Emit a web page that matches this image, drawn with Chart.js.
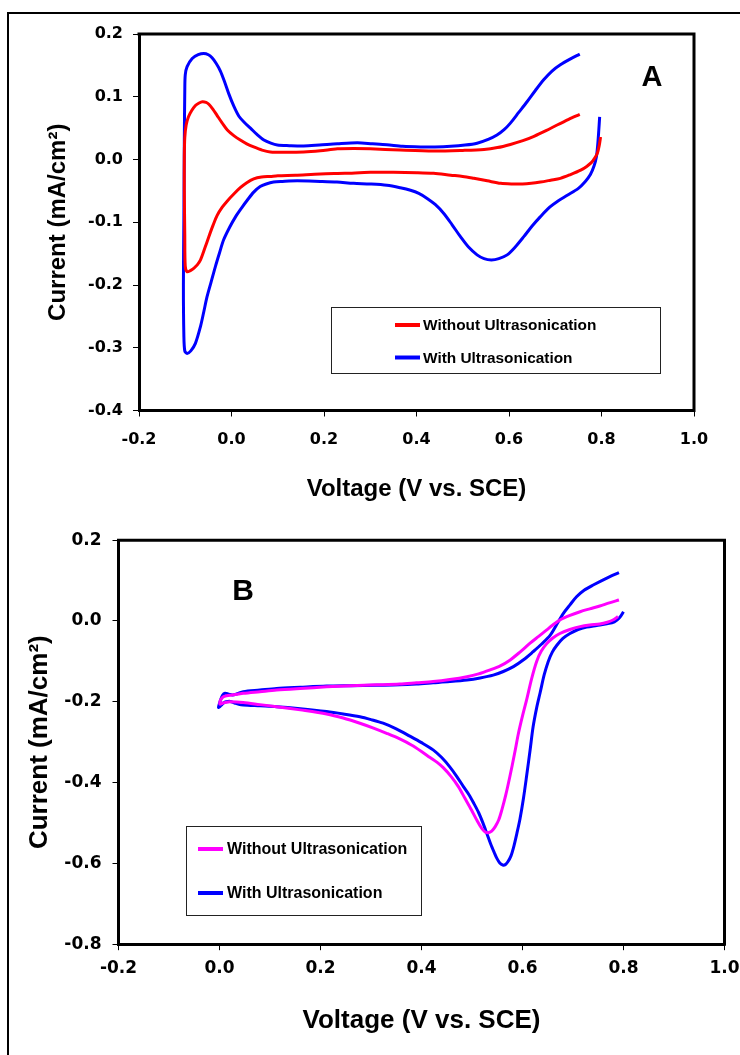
<!DOCTYPE html>
<html>
<head>
<meta charset="utf-8">
<title>Cyclic voltammograms</title>
<script src="https://cdn.jsdelivr.net/npm/chart.js@4.4.1/dist/chart.umd.min.js"></script>
<style>
  html, body { margin: 0; padding: 0; background: #fff; }
  body { width: 740px; height: 1055px; position: relative; overflow: hidden; }
  #frame { position: absolute; left: 7px; top: 12px; width: 760px; height: 1080px;
           border-left: 2px solid #000; border-top: 2px solid #000; }
  canvas { position: absolute; left: 0; }
  #cvA { top: 0; }
  #cvB { top: 520px; }
</style>
</head>
<body>
<div id="frame"></div>
<canvas id="cvA" width="740" height="520"></canvas>
<canvas id="cvB" width="740" height="535"></canvas>
<script>
// ---- Panel A: voltage (V vs. SCE) and current density (mA/cm2) ----
const aWithoutV = [0.798, 0.795, 0.791, 0.785, 0.778, 0.768, 0.755, 0.733, 0.711, 0.690, 0.668, 0.648, 0.629, 0.605, 0.582, 0.553, 0.524, 0.500, 0.474, 0.437, 0.401, 0.350, 0.300, 0.245, 0.192, 0.138, 0.100, 0.084, 0.065, 0.048, 0.033, 0.019, 0.005, -0.009, -0.020, -0.031, -0.040, -0.049, -0.058, -0.067, -0.074, -0.081, -0.089, -0.096, -0.100, -0.101, -0.102, -0.102, -0.101, -0.098, -0.093, -0.086, -0.078, -0.070, -0.063, -0.055, -0.049, -0.040, -0.031, -0.020, -0.009, 0.005, 0.019, 0.033, 0.048, 0.066, 0.084, 0.120, 0.156, 0.192, 0.229, 0.265, 0.300, 0.365, 0.437, 0.500, 0.546, 0.575, 0.603, 0.630, 0.654, 0.680, 0.704, 0.729, 0.753];
const aWithoutI = [0.036, 0.022, 0.010, 0.002, -0.005, -0.011, -0.017, -0.024, -0.030, -0.033, -0.036, -0.038, -0.039, -0.039, -0.038, -0.034, -0.030, -0.027, -0.025, -0.022, -0.021, -0.0205, -0.0205, -0.022, -0.023, -0.025, -0.026, -0.027, -0.028, -0.031, -0.037, -0.045, -0.055, -0.066, -0.076, -0.089, -0.105, -0.123, -0.142, -0.160, -0.168, -0.173, -0.177, -0.179, -0.170, -0.120, -0.050, 0.005, 0.035, 0.055, 0.068, 0.078, 0.086, 0.090, 0.092, 0.091, 0.088, 0.080, 0.070, 0.058, 0.047, 0.038, 0.031, 0.025, 0.020, 0.015, 0.012, 0.0115, 0.012, 0.014, 0.017, 0.0175, 0.017, 0.015, 0.0135, 0.0145, 0.016, 0.019, 0.024, 0.030, 0.037, 0.046, 0.055, 0.064, 0.072];

const aWithV = [0.796, 0.794, 0.792, 0.789, 0.784, 0.776, 0.765, 0.750, 0.726, 0.706, 0.688, 0.668, 0.650, 0.632, 0.614, 0.596, 0.578, 0.562, 0.546, 0.531, 0.513, 0.495, 0.477, 0.459, 0.441, 0.423, 0.405, 0.387, 0.365, 0.336, 0.300, 0.264, 0.228, 0.192, 0.142, 0.110, 0.091, 0.075, 0.062, 0.048, 0.034, 0.022, 0.009, -0.004, -0.017, -0.026, -0.035, -0.044, -0.053, -0.060, -0.067, -0.078, -0.088, -0.096, -0.101, -0.103, -0.104, -0.103, -0.102, -0.101, -0.100, -0.096, -0.085, -0.072, -0.060, -0.050, -0.042, -0.033, -0.024, -0.015, -0.006, 0.005, 0.016, 0.028, 0.041, 0.055, 0.070, 0.085, 0.099, 0.125, 0.156, 0.190, 0.229, 0.272, 0.305, 0.336, 0.370, 0.409, 0.440, 0.474, 0.505, 0.531, 0.555, 0.574, 0.590, 0.603, 0.621, 0.639, 0.657, 0.675, 0.693, 0.711, 0.732, 0.753];
const aWithI = [0.068, 0.045, 0.025, 0.0045, -0.010, -0.024, -0.035, -0.046, -0.057, -0.066, -0.076, -0.091, -0.106, -0.123, -0.139, -0.152, -0.158, -0.160, -0.158, -0.152, -0.140, -0.123, -0.104, -0.086, -0.072, -0.062, -0.054, -0.049, -0.045, -0.041, -0.039, -0.038, -0.036, -0.035, -0.034, -0.035, -0.036, -0.039, -0.043, -0.052, -0.065, -0.077, -0.091, -0.108, -0.128, -0.149, -0.171, -0.195, -0.219, -0.243, -0.266, -0.293, -0.305, -0.309, -0.305, -0.280, -0.200, -0.096, 0.030, 0.110, 0.135, 0.148, 0.161, 0.167, 0.169, 0.167, 0.162, 0.153, 0.141, 0.124, 0.105, 0.085, 0.069, 0.059, 0.050, 0.040, 0.031, 0.026, 0.023, 0.022, 0.0215, 0.023, 0.025, 0.0265, 0.025, 0.0235, 0.021, 0.020, 0.020, 0.021, 0.023, 0.026, 0.032, 0.039, 0.048, 0.058, 0.075, 0.092, 0.110, 0.127, 0.141, 0.151, 0.160, 0.168];

// ---- Panel B ----
const bWithoutV = [0.791, 0.772, 0.753, 0.733, 0.714, 0.694, 0.674, 0.660, 0.648, 0.632, 0.615, 0.595, 0.575, 0.556, 0.536, 0.513, 0.490, 0.456, 0.423, 0.390, 0.357, 0.311, 0.260, 0.212, 0.160, 0.113, 0.080, 0.047, 0.025, 0.014, 0.007, 0.002, 0.001, 0.007, 0.014, 0.021, 0.047, 0.080, 0.113, 0.160, 0.212, 0.245, 0.278, 0.305, 0.331, 0.357, 0.380, 0.400, 0.417, 0.431, 0.443, 0.458, 0.473, 0.486, 0.499, 0.510, 0.519, 0.526, 0.532, 0.539, 0.546, 0.553, 0.559, 0.567, 0.575, 0.584, 0.592, 0.600, 0.608, 0.618, 0.628, 0.637, 0.648, 0.660, 0.674, 0.694, 0.714, 0.733, 0.753, 0.768, 0.780, 0.789];
const bWithoutI = [0.052, 0.045, 0.037, 0.030, 0.023, 0.014, 0.0025, -0.010, -0.022, -0.038, -0.055, -0.077, -0.097, -0.111, -0.121, -0.131, -0.138, -0.145, -0.150, -0.153, -0.156, -0.158, -0.160, -0.163, -0.167, -0.171, -0.175, -0.179, -0.183, -0.185, -0.188, -0.196, -0.206, -0.203, -0.201, -0.200, -0.202, -0.207, -0.212, -0.220, -0.230, -0.240, -0.253, -0.265, -0.278, -0.292, -0.307, -0.323, -0.338, -0.350, -0.363, -0.384, -0.410, -0.439, -0.468, -0.494, -0.513, -0.522, -0.524, -0.520, -0.509, -0.492, -0.468, -0.430, -0.385, -0.330, -0.278, -0.235, -0.196, -0.143, -0.100, -0.075, -0.056, -0.042, -0.031, -0.021, -0.014, -0.010, -0.0075, -0.003, 0.003, 0.011];

const bWithV = [0.791, 0.765, 0.740, 0.722, 0.707, 0.694, 0.681, 0.668, 0.655, 0.638, 0.621, 0.602, 0.582, 0.562, 0.542, 0.516, 0.490, 0.456, 0.423, 0.390, 0.357, 0.311, 0.260, 0.212, 0.160, 0.113, 0.080, 0.047, 0.035, 0.026, 0.018, 0.011, 0.006, 0.002, -0.002, 0.003, 0.008, 0.013, 0.021, 0.030, 0.040, 0.047, 0.080, 0.113, 0.160, 0.212, 0.245, 0.278, 0.300, 0.324, 0.350, 0.377, 0.400, 0.423, 0.440, 0.456, 0.470, 0.483, 0.494, 0.503, 0.513, 0.522, 0.530, 0.537, 0.544, 0.549, 0.555, 0.561, 0.566, 0.571, 0.577, 0.583, 0.589, 0.595, 0.602, 0.608, 0.615, 0.621, 0.628, 0.635, 0.643, 0.651, 0.659, 0.668, 0.680, 0.694, 0.710, 0.727, 0.747, 0.767, 0.782, 0.792, 0.800];
const bWithI = [0.120, 0.105, 0.089, 0.076, 0.060, 0.040, 0.019, -0.008, -0.035, -0.057, -0.076, -0.096, -0.113, -0.125, -0.134, -0.141, -0.146, -0.150, -0.153, -0.156, -0.158, -0.159, -0.160, -0.161, -0.164, -0.167, -0.171, -0.175, -0.180, -0.183, -0.181, -0.179, -0.184, -0.196, -0.214, -0.209, -0.203, -0.200, -0.199, -0.203, -0.207, -0.208, -0.210, -0.212, -0.217, -0.224, -0.230, -0.237, -0.244, -0.253, -0.267, -0.285, -0.301, -0.319, -0.338, -0.361, -0.385, -0.410, -0.430, -0.450, -0.474, -0.501, -0.528, -0.552, -0.573, -0.587, -0.599, -0.604, -0.603, -0.596, -0.582, -0.557, -0.525, -0.490, -0.438, -0.385, -0.320, -0.262, -0.215, -0.177, -0.133, -0.100, -0.077, -0.060, -0.043, -0.031, -0.021, -0.015, -0.011, -0.007, -0.002, 0.008, 0.023];

// ---- Axes ----
const voltageTicks = [-0.2, 0.0, 0.2, 0.4, 0.6, 0.8, 1.0];
const currentTicksA = [-0.4, -0.3, -0.2, -0.1, 0.0, 0.1, 0.2];
const currentTicksB = [-0.8, -0.6, -0.4, -0.2, 0.0, 0.2];
const seriesLabels = ['Without Ultrasonication', 'With Ultrasonication'];
const xTitle = 'Voltage (V vs. SCE)';
const yTitle = 'Current (mA/cm\u00B2)';

const SANS = "'Liberation Sans', Arial, Helvetica, sans-serif";
const TICK_FONT = "'DejaVu Sans', Verdana, sans-serif";

const toPoints = (vs, is) => vs.map((v, k) => ({ x: v, y: is[k] }));
const fmt = v => (Math.abs(v) < 1e-9 ? 0 : v).toFixed(1);

// closes the plot frame, writes the panel letter and the inset legend
const panelDecor = {
  id: 'panelDecor',
  afterDatasetsDraw(chart, args, o) {
    const { ctx, chartArea: a } = chart;
    ctx.save();
    ctx.strokeStyle = '#000';
    ctx.lineWidth = 3;
    ctx.lineCap = 'square';
    ctx.beginPath();
    ctx.moveTo(a.left, a.top);
    ctx.lineTo(a.right, a.top);
    ctx.lineTo(a.right, a.bottom);
    ctx.stroke();

    ctx.fillStyle = '#000';
    ctx.font = `bold ${o.letterSize}px ${SANS}`;
    ctx.textAlign = 'center';
    ctx.textBaseline = 'middle';
    ctx.fillText(o.letter, o.letterX, o.letterY);

    const L = o.legend;
    ctx.fillStyle = '#fff';
    ctx.fillRect(L.x, L.y, L.w, L.h);
    ctx.lineWidth = 1;
    ctx.lineCap = 'butt';
    ctx.strokeStyle = '#222';
    ctx.strokeRect(L.x + 0.5, L.y + 0.5, L.w, L.h);
    chart.data.datasets.forEach((ds, k) => {
      const y = L.rows[k];
      ctx.strokeStyle = ds.borderColor;
      ctx.lineWidth = 4;
      ctx.beginPath();
      ctx.moveTo(L.lineX1, y);
      ctx.lineTo(L.lineX2, y);
      ctx.stroke();
      ctx.fillStyle = '#000';
      ctx.font = `bold ${L.fontSize}px ${SANS}`;
      ctx.textAlign = 'left';
      ctx.textBaseline = 'middle';
      ctx.fillText(ds.label, L.textX, y + 1);
    });
    ctx.restore();
  }
};

function makeScales(p) {
  const tickFont = { family: TICK_FONT, size: p.tickSize, weight: 'bold' };
  const titleFont = { family: SANS, size: p.titleSize, weight: 'bold' };
  const grid = { drawOnChartArea: false, drawTicks: true, tickLength: 6, color: '#000', lineWidth: 1 };
  const border = { display: true, color: '#000', width: 3 };
  return {
    x: {
      type: 'linear', position: 'bottom', min: p.xMin, max: p.xMax,
      afterBuildTicks: s => { s.ticks = voltageTicks.map(v => ({ value: v })); },
      afterFit: s => { s.height = p.xAxisHeight; s.paddingLeft = 0; s.paddingRight = 0; },
      ticks: { font: tickFont, color: '#000', padding: p.xTickPad, maxRotation: 0, autoSkip: false, callback: fmt },
      grid, border,
      title: { display: true, text: xTitle, color: '#000', font: titleFont, padding: { top: 0, bottom: p.xTitlePad } }
    },
    y: {
      type: 'linear', position: 'left', min: p.yMin, max: p.yMax,
      afterBuildTicks: s => { s.ticks = p.yTicks.map(v => ({ value: v })); },
      afterFit: s => { s.width = p.yAxisWidth; s.paddingTop = 0; s.paddingBottom = 0; },
      ticks: { font: tickFont, color: '#000', padding: p.yTickPad, autoSkip: false, callback: fmt },
      grid, border,
      title: { display: true, text: yTitle, color: '#000', font: titleFont, padding: { top: p.yTitlePad, bottom: 0 } }
    }
  };
}

function lineSet(label, color, vs, is) {
  return {
    label, data: toPoints(vs, is), showLine: true, borderColor: color, backgroundColor: color,
    borderWidth: 3, pointRadius: 0, tension: 0.3, fill: false, borderJoinStyle: 'round'
  };
}

Chart.defaults.font.family = SANS;

new Chart(document.getElementById('cvA'), {
  type: 'scatter',
  data: { datasets: [
    lineSet(seriesLabels[0], '#FF0000', aWithoutV, aWithoutI),
    lineSet(seriesLabels[1], '#0000FF', aWithV, aWithI)
  ] },
  options: {
    responsive: false, animation: false, devicePixelRatio: 1,
    layout: { padding: { left: 0, top: 34, right: 46, bottom: 0 } },
    scales: makeScales({
      xMin: -0.2, xMax: 1.0, yMin: -0.4, yMax: 0.2, yTicks: currentTicksA,
      tickSize: 16, titleSize: 24, xAxisHeight: 109.5, yAxisWidth: 139,
      xTickPad: 14, yTickPad: 10, xTitlePad: 16, yTitlePad: 44
    }),
    plugins: {
      legend: { display: false }, tooltip: { enabled: false },
      panelDecor: {
        letter: 'A', letterSize: 29, letterX: 652, letterY: 78,
        legend: { x: 331, y: 307, w: 329, h: 66, lineX1: 395, lineX2: 420, textX: 423, rows: [325, 357.5], fontSize: 15.4 }
      }
    }
  },
  plugins: [panelDecor]
});

new Chart(document.getElementById('cvB'), {
  type: 'scatter',
  data: { datasets: [
    lineSet(seriesLabels[0], '#FF00FF', bWithoutV, bWithoutI),
    lineSet(seriesLabels[1], '#0000FF', bWithV, bWithI)
  ] },
  options: {
    responsive: false, animation: false, devicePixelRatio: 1,
    layout: { padding: { left: 0, top: 20.2, right: 15.5, bottom: 0 } },
    scales: makeScales({
      xMin: -0.2, xMax: 1.0, yMin: -0.8, yMax: 0.2, yTicks: currentTicksB,
      tickSize: 17, titleSize: 26, xAxisHeight: 110.8, yAxisWidth: 118.5,
      xTickPad: 8, yTickPad: 11, xTitlePad: 19, yTitlePad: 24
    }),
    plugins: {
      legend: { display: false }, tooltip: { enabled: false },
      panelDecor: {
        letter: 'B', letterSize: 30, letterX: 243, letterY: 72,
        legend: { x: 186, y: 306, w: 235, h: 89, lineX1: 198, lineX2: 223, textX: 227, rows: [329, 373], fontSize: 16 }
      }
    }
  },
  plugins: [panelDecor]
});
</script>
</body>
</html>
